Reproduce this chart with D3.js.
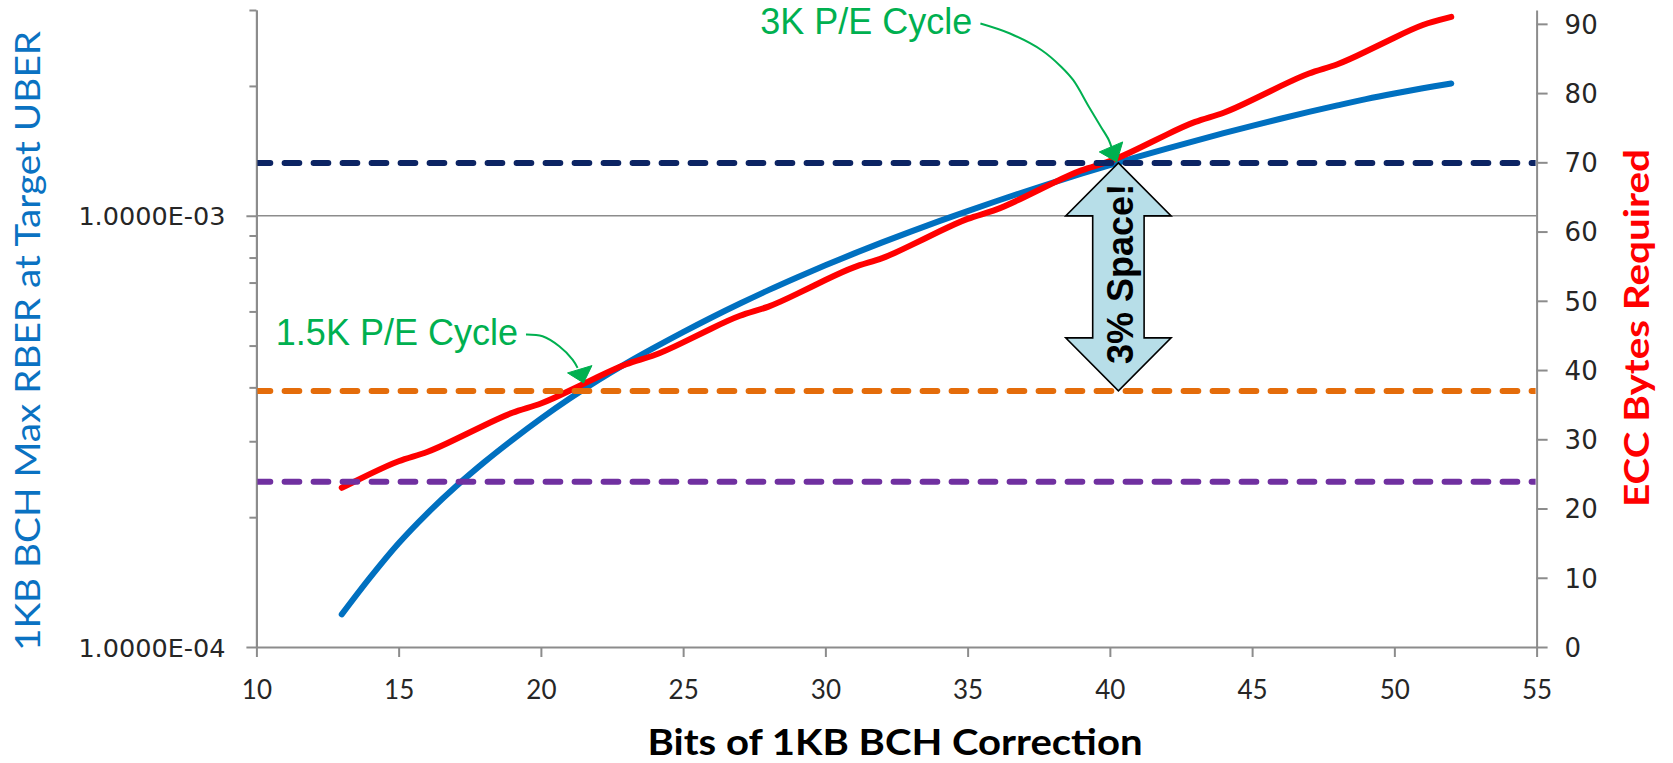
<!DOCTYPE html>
<html>
<head>
<meta charset="utf-8">
<script src="https://cdn.jsdelivr.net/npm/d3@7"></script>
<style>
  html, body { margin: 0; padding: 0; background: #ffffff; }
  svg { display: block; }
</style>
</head>
<body>
<svg id="chart" width="1673" height="763"></svg>
<script>
// Bits of 1KB BCH correction (t)
const correctionBits = [13, 14, 15, 16, 17, 18, 19, 20, 21, 22, 23, 24, 25, 26, 27, 28, 29, 30, 31, 32,
                        33, 34, 35, 36, 37, 38, 39, 40, 41, 42, 43, 44, 45, 46, 47, 48, 49, 50, 51, 52];

// Maximum raw bit error rate tolerated at the target UBER (left, log axis)
const maxRber = [1.190e-4, 1.450e-4, 1.740e-4, 2.039e-4, 2.352e-4, 2.679e-4, 3.022e-4, 3.385e-4, 3.763e-4, 4.150e-4,
                 4.545e-4, 4.949e-4, 5.370e-4, 5.808e-4, 6.258e-4, 6.722e-4, 7.194e-4, 7.677e-4, 8.170e-4, 8.674e-4,
                 9.188e-4, 9.714e-4, 1.0254e-3, 1.0804e-3, 1.1366e-3, 1.1937e-3, 1.2516e-3, 1.3106e-3, 1.3704e-3, 1.4311e-3,
                 1.4923e-3, 1.5541e-3, 1.6161e-3, 1.6784e-3, 1.7406e-3, 1.8026e-3, 1.8643e-3, 1.9214e-3, 1.9753e-3, 2.0267e-3];

// ECC parity bytes required (right axis)
const eccBytes = [23, 25, 27, 28, 30, 32, 34, 35, 37, 39, 41, 42, 44, 46, 48, 49, 51, 53, 55, 56,
                  58, 60, 62, 63, 65, 67, 69, 70, 72, 74, 76, 77, 79, 81, 83, 84, 86, 88, 90, 91];

// Horizontal RBER reference levels
const thresholdRber = [1.326e-3, 3.925e-4, 2.416e-4];
const thresholdColors = ["#0c2463", "#e46c0a", "#7030a0"];

// Axis ticks
const xTicks = [10, 15, 20, 25, 30, 35, 40, 45, 50, 55];
const leftMajorTicks = [1e-4, 1e-3];
const leftMinorTicks = [2e-4, 3e-4, 4e-4, 5e-4, 6e-4, 7e-4, 8e-4, 9e-4, 2e-3, 3e-3];
const rightTicks = [0, 10, 20, 30, 40, 50, 60, 70, 80, 90];

// P/E cycle call-outs
const peLabels = ["3K P/E Cycle", "1.5K P/E Cycle"];
const peBits = [40.3, 21.5];
const peRber = [1.326e-3, 3.925e-4];

// Spare-area arrow
const spaceLabel = "3% Space!";
const spaceBits = 40.3;

const plot = { left: 256.4, right: 1536.6, top: 10, bottom: 647 };

const svg = d3.select("#chart");

const x = d3.scaleLinear().domain([10, 55]).range([plot.left, plot.right]);
const yLeft = d3.scaleLog().domain([1e-4, 3e-3]).range([plot.bottom, plot.top]);
const yRight = d3.scaleLinear().domain([0, 92]).range([plot.bottom, plot.top]);

const axisGrey = "#8c8c8c";
const tickFont = "'DejaVu Sans', Verdana, sans-serif";
const calFont = "Lato, 'Open Sans', sans-serif";
const arialFont = "'Liberation Sans', Arial, sans-serif";

// Gridline at 1E-03
svg.append("g")
  .selectAll("line")
  .data([1e-3])
  .join("line")
  .attr("x1", plot.left).attr("x2", plot.right)
  .attr("y1", d => yLeft(d)).attr("y2", d => yLeft(d))
  .attr("stroke", axisGrey).attr("stroke-width", 1.6);

function sciFormat(v) {
  const e = Math.round(Math.log10(v));
  const m = v / Math.pow(10, e);
  const sign = e < 0 ? "-" : "+";
  return m.toFixed(4) + "E" + sign + String(Math.abs(e)).padStart(2, "0");
}

function styleAxis(g) {
  g.select(".domain").attr("stroke", axisGrey).attr("stroke-width", 2);
  g.selectAll(".tick line").attr("stroke", axisGrey).attr("stroke-width", 2);
  g.selectAll(".tick text").attr("fill", "#262626");
}

// Left axis (log): major ticks with labels, minor ticks without
const gLeft = svg.append("g").attr("transform", `translate(${plot.left},0)`);
gLeft.call(d3.axisLeft(yLeft).tickValues(leftMajorTicks).tickSize(10).tickSizeOuter(0)
  .tickPadding(21).tickFormat(sciFormat));
gLeft.selectAll(".tick text").attr("font-family", tickFont).attr("font-size", 25.5).attr("dy", "0.36em");
styleAxis(gLeft);
const gLeftMinor = svg.append("g").attr("transform", `translate(${plot.left},0)`);
gLeftMinor.call(d3.axisLeft(yLeft).tickValues(leftMinorTicks).tickSize(7).tickSizeOuter(0).tickFormat(""));
styleAxis(gLeftMinor);

// Right axis
const gRight = svg.append("g").attr("transform", `translate(${plot.right},0)`);
gRight.call(d3.axisRight(yRight).tickValues(rightTicks).tickSize(11).tickSizeOuter(0).tickPadding(17));
gRight.selectAll(".tick text").attr("font-family", tickFont).attr("font-size", 26).attr("dy", "0.36em");
styleAxis(gRight);

// Bottom axis
const gBottom = svg.append("g").attr("transform", `translate(0,${plot.bottom})`);
gBottom.call(d3.axisBottom(x).tickValues(xTicks).tickSize(10).tickSizeOuter(0).tickPadding(24));
gBottom.selectAll(".tick text").attr("font-family", calFont).attr("font-size", 26);
styleAxis(gBottom);

// Curves
const rows = correctionBits.map((b, i) => ({ b, rber: maxRber[i], ecc: eccBytes[i] }));

svg.append("path")
  .datum(rows)
  .attr("fill", "none")
  .attr("stroke", "#0070c0")
  .attr("stroke-width", 6)
  .attr("stroke-linecap", "round")
  .attr("d", d3.line().x(d => x(d.b)).y(d => yLeft(d.rber)).curve(d3.curveCatmullRom));

svg.append("path")
  .datum(rows)
  .attr("fill", "none")
  .attr("stroke", "#ff0000")
  .attr("stroke-width", 6)
  .attr("stroke-linecap", "round")
  .attr("d", d3.line().x(d => x(d.b)).y(d => yRight(d.ecc)).curve(d3.curveBasis));

// Dashed reference levels, clipped to the plot area
svg.append("clipPath").attr("id", "plotClip")
  .append("rect")
  .attr("x", plot.left + 1).attr("y", plot.top)
  .attr("width", plot.right - plot.left - 2).attr("height", plot.bottom - plot.top);

svg.append("g").attr("clip-path", "url(#plotClip)")
  .selectAll("line")
  .data(thresholdRber)
  .join("line")
  .attr("x1", plot.left - 0.8).attr("x2", plot.right)
  .attr("y1", d => yLeft(d)).attr("y2", d => yLeft(d))
  .attr("stroke", (d, i) => thresholdColors[i])
  .attr("stroke-width", 6)
  .attr("stroke-linecap", "round")
  .attr("stroke-dasharray", "14.7 14.3");

// Double-headed "3% Space!" arrow between the two upper reference levels
const ax = x(spaceBits);
const aTop = yLeft(thresholdRber[0]);
const aBot = yLeft(thresholdRber[1]);
const headH = 53, headW = 52.7, shaftW = 25.7;
const arrowPts = [
  [ax, aTop], [ax + headW, aTop + headH], [ax + shaftW, aTop + headH],
  [ax + shaftW, aBot - headH], [ax + headW, aBot - headH], [ax, aBot],
  [ax - headW, aBot - headH], [ax - shaftW, aBot - headH], [ax - shaftW, aTop + headH],
  [ax - headW, aTop + headH]
];
svg.append("path")
  .attr("d", "M" + arrowPts.map(p => p.join(",")).join("L") + "Z")
  .attr("fill", "#b7dee8")
  .attr("stroke", "#000")
  .attr("stroke-width", 1.6)
  .attr("stroke-linejoin", "miter");

svg.append("text")
  .attr("transform", `translate(${ax + 15},${(aTop + aBot) / 2 - 3}) rotate(-90)`)
  .attr("text-anchor", "middle")
  .attr("font-family", arialFont)
  .attr("font-weight", "bold")
  .attr("font-size", 36)
  .attr("fill", "#000")
  .text(spaceLabel);

// P/E cycle call-outs: green leader curves ending in a filled arrowhead
const green = "#00b050";
const leaderOffsets = [
  [[-136.3, -138.4], [-106.7, -128.4], [-75, -111.7], [-55.3, -95], [-43.4, -81.7], [-27.7, -55], [-15.7, -35], [-7.8, -21.7], [-5, -14]],
  [[-57.6, -48.3], [-41, -46.6], [-24.3, -36.6], [-11, -23.3], [-6, -15]]
];
const headOffsets = [
  [[-17.4, -10], [6, -20], [0, 0]],
  [[-16, -10], [8.4, -17.3], [0, 0]]
];
const tipShift = [[-1.7, -1], [0, -8]];
const leader = d3.line().curve(d3.curveCatmullRom);

peLabels.forEach((label, i) => {
  const tx = x(peBits[i]) + tipShift[i][0];
  const ty = yLeft(peRber[i]) + tipShift[i][1];
  const pts = leaderOffsets[i].map(([dx, dy]) => [tx + dx, ty + dy]);
  svg.append("path")
    .attr("d", leader(pts))
    .attr("fill", "none")
    .attr("stroke", green)
    .attr("stroke-width", 2);
  svg.append("path")
    .attr("d", "M" + headOffsets[i].map(([dx, dy]) => [tx + dx, ty + dy].join(",")).join("L") + "Z")
    .attr("fill", green)
    .attr("stroke", green)
    .attr("stroke-width", 1);
  svg.append("text")
    .attr("x", pts[0][0] - 8)
    .attr("y", pts[0][1] + 10)
    .attr("text-anchor", "end")
    .attr("font-family", arialFont)
    .attr("font-size", 36)
    .attr("fill", green)
    .text(label);
});

// Axis titles
svg.append("text")
  .attr("transform", `translate(40,341) rotate(-90)`)
  .attr("text-anchor", "middle")
  .attr("font-family", calFont)
  .attr("font-size", 35)
  .attr("fill", "#0a72c2")
  .attr("textLength", 620)
  .attr("lengthAdjust", "spacingAndGlyphs")
  .text("1KB BCH Max RBER at Target UBER");

svg.append("text")
  .attr("transform", `translate(1649,328) rotate(-90)`)
  .attr("text-anchor", "middle")
  .attr("font-family", calFont)
  .attr("font-weight", "bold")
  .attr("font-size", 34)
  .attr("fill", "#ff0000")
  .attr("textLength", 358)
  .attr("lengthAdjust", "spacingAndGlyphs")
  .text("ECC Bytes Required");

svg.append("text")
  .attr("x", 895)
  .attr("y", 755)
  .attr("text-anchor", "middle")
  .attr("font-family", calFont)
  .attr("font-weight", "bold")
  .attr("font-size", 37)
  .attr("fill", "#000")
  .attr("textLength", 495)
  .attr("lengthAdjust", "spacingAndGlyphs")
  .text("Bits of 1KB BCH Correction");
</script>
</body>
</html>
